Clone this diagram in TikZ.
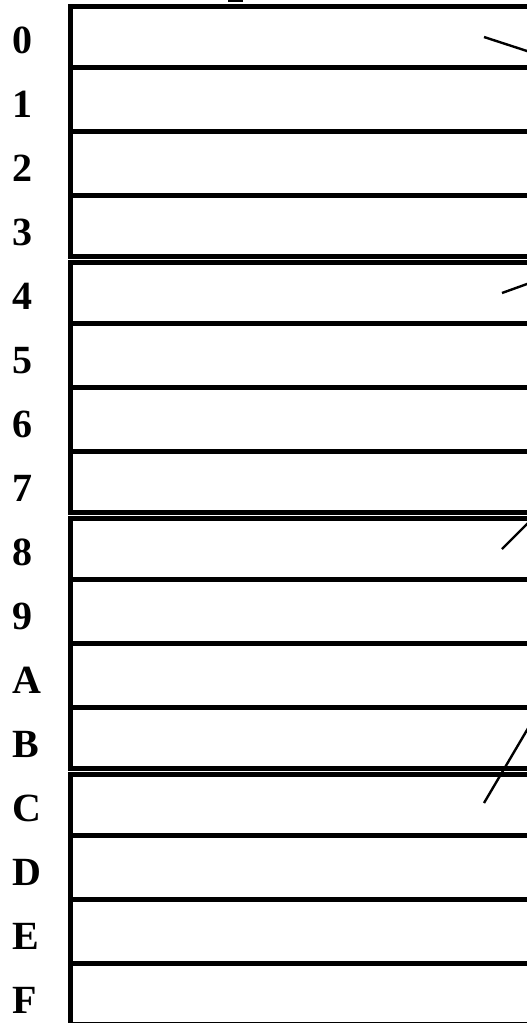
\documentclass[tikz,border=0pt]{standalone}
\usepackage{fontspec}
\setmainfont{Liberation Serif}
\begin{document}
\begin{tikzpicture}[x=1pt,y=-1pt,
  boxline/.style={line width=5pt},
  ptr/.style={line width=2.4pt},
  lab/.style={anchor=base west, inner sep=0pt, font=\fontsize{40}{48}\selectfont\bfseries}]
\useasboundingbox (0,0) rectangle (527,1023);
\clip (0,0) rectangle (527,1023);
% four stacked blocks of four rows
\foreach \k in {0,...,3} {
  \pgfmathsetmacro\T{6.3+256*\k}
  \pgfmathsetmacro\B{256.3+256*\k}
  \draw[boxline] (70.3,\T) rectangle (700,\B);
  \foreach \j in {0,1,2} {
    \pgfmathsetmacro\Y{\T+60.7+64*\j}
    \draw[boxline] (70.3,\Y) -- (700,\Y);
  }
}
% row labels
\foreach \t [count=\i from 0] in {0,1,2,3,4,5,6,7,8,9,A,B,C,D,E,F} {
  \node[lab] (l\t) at (12.5,{53.5+64*\i}) {\t};
}
% pointer lines leaving to the right
\coordinate (p0s) at (484,37);  \coordinate (p0e) at (570,65);
\coordinate (p4s) at (502,293); \coordinate (p4e) at (552,275);
\coordinate (p8s) at (502,549); \coordinate (p8e) at (552,499);
\coordinate (pCs) at (484,803); \coordinate (pCe) at (570,657);
\draw[ptr] (p0s) -- (p0e);
\draw[ptr] (p4s) -- (p4e);
\draw[ptr] (p8s) -- (p8e);
\draw[ptr] (pCs) -- (pCe);
% cropped mark at the top
\fill (228.3,0) rectangle (242.7,1.8);
\end{tikzpicture}
\end{document}
